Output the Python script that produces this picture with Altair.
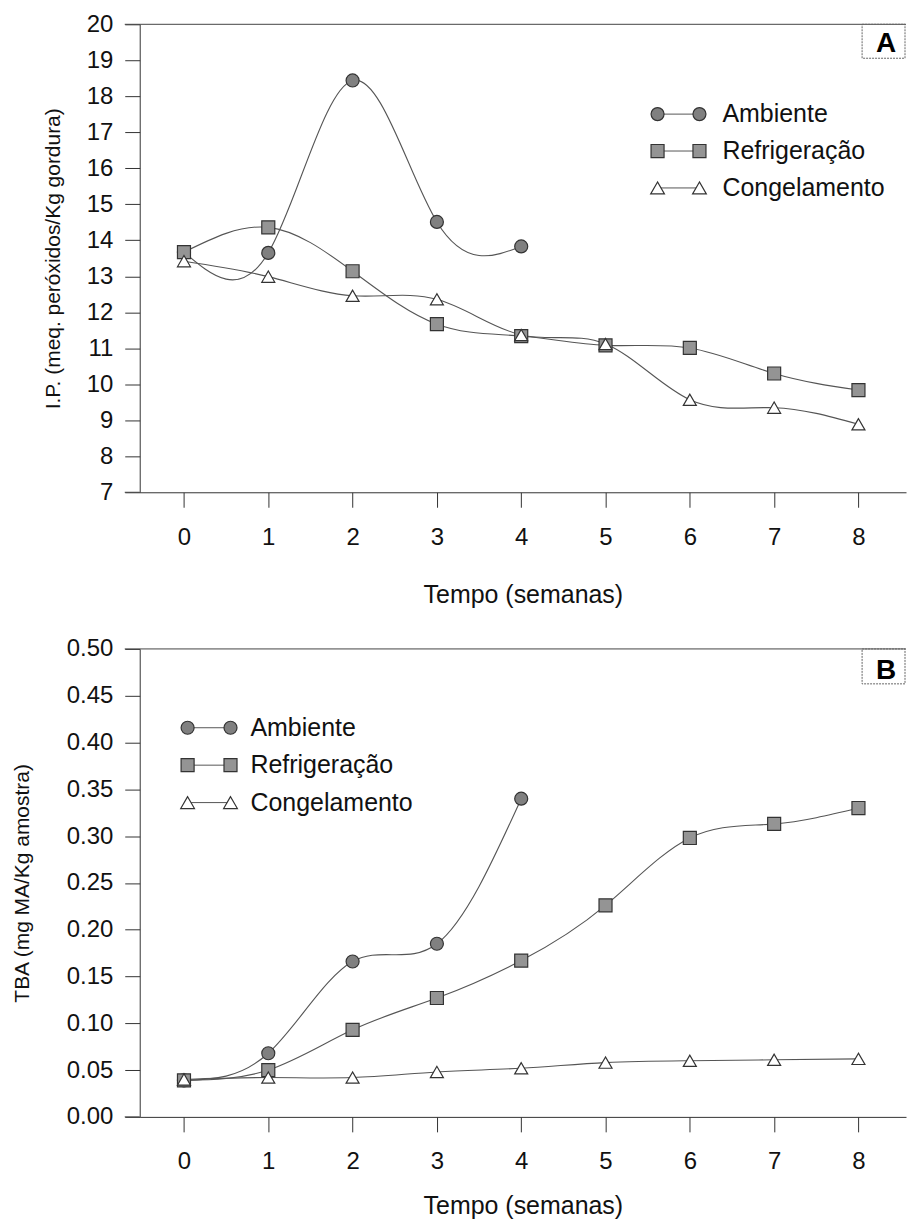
import altair as alt
import pandas as pd

FONT = "Liberation Sans"

series_names = ["Ambiente", "Refrigeração", "Congelamento"]
weeks_amb = [0, 1, 2, 3, 4]
weeks_all = [0, 1, 2, 3, 4, 5, 6, 7, 8]

ip_ambiente = [13.67, 13.65, 18.44, 14.51, 13.83]
ip_refrig = [13.67, 14.36, 13.14, 11.67, 11.34, 11.08, 11.01, 10.30, 9.84]
ip_congel = [13.42, 12.99, 12.46, 12.36, 11.37, 11.12, 9.57, 9.35, 8.89]

tba_ambiente = [0.039, 0.068, 0.166, 0.185, 0.340]
tba_refrig = [0.039, 0.050, 0.093, 0.127, 0.167, 0.226, 0.298, 0.313, 0.330]
tba_congel = [0.040, 0.042, 0.042, 0.048, 0.052, 0.058, 0.060, 0.061, 0.062]

ip_ticks = list(range(7, 21))
tba_ticks = [0.0, 0.05, 0.10, 0.15, 0.20, 0.25, 0.30, 0.35, 0.40, 0.45, 0.50]

W = 768
H = 469
X_DOMAIN = [-0.525, 8.564]

shape_scale = alt.Scale(domain=series_names, range=["circle", "square", "triangle-up"])
fill_scale = alt.Scale(domain=series_names, range=["#808080", "#949494", "#ffffff"])
SHAPES = {"Ambiente": "circle", "Refrigeração": "square", "Congelamento": "triangle-up"}
FILLS = {"Ambiente": "#808080", "Refrigeração": "#949494", "Congelamento": "#ffffff"}
SIZES = {"Ambiente": 170, "Refrigeração": 170, "Congelamento": 190}


def long_df(amb, ref, con):
    rows = []
    for w, v in zip(weeks_amb, amb):
        rows.append({"semana": w, "valor": v, "serie": "Ambiente"})
    for w, v in zip(weeks_all, ref):
        rows.append({"semana": w, "valor": v, "serie": "Refrigeração"})
    for w, v in zip(weeks_all, con):
        rows.append({"semana": w, "valor": v, "serie": "Congelamento"})
    return pd.DataFrame(rows)


def panel(df, y_domain, y_ticks, y_title, y_fmt, title_x, x_title_y, letter, leg):
    one = pd.DataFrame({"k": [0]})
    x_enc = alt.X(
        "semana:Q",
        scale=alt.Scale(domain=X_DOMAIN, nice=False, zero=False),
        axis=alt.Axis(
            values=weeks_all, title="Tempo (semanas)", format="d",
            tickSize=15, labelPadding=30, labelBaseline="middle", labelOverlap=False,
            labelFontSize=24, titleFontSize=25, titleFontWeight="normal",
            titleY=x_title_y, titleBaseline="middle", grid=False,
        ),
    )
    y_enc = alt.Y(
        "valor:Q",
        scale=alt.Scale(domain=y_domain, nice=False, zero=False),
        axis=alt.Axis(
            values=y_ticks, title=y_title, format=y_fmt,
            tickSize=15, labelPadding=12, labelFontSize=24, labelOverlap=False,
            titleFontSize=21, titleFontWeight="normal",
            titleX=title_x, titleY=H / 2, titleBaseline="middle", grid=False,
        ),
    )
    lines = alt.Chart(df).mark_line(
        interpolate="natural", color="#555555", strokeWidth=1.1
    ).encode(x=x_enc, y=y_enc, detail="serie:N")
    pts = alt.Chart(df).mark_point(
        filled=True, stroke="#333333", strokeWidth=1.2, opacity=1, size=170
    ).encode(
        x=x_enc, y=y_enc,
        shape=alt.Shape("serie:N", scale=shape_scale, legend=None),
        fill=alt.Fill("serie:N", scale=fill_scale, legend=None),
    )
    top_rule = alt.Chart(one).mark_rule(color="#444444", strokeWidth=1).encode(
        x=alt.value(-15), x2=alt.value(W), y=alt.value(0))
    bot_rule = alt.Chart(one).mark_rule(color="#444444", strokeWidth=1).encode(
        x=alt.value(-15), x2=alt.value(0), y=alt.value(H))
    box = alt.Chart(one).mark_rect(
        fillOpacity=0, stroke="#666666", strokeWidth=1, strokeDash=[2, 1]
    ).encode(x=alt.value(724), x2=alt.value(W - 1), y=alt.value(0), y2=alt.value(leg["box_h"]))
    lab = alt.Chart(one).mark_text(
        text=letter, fontSize=28, fontWeight="bold", font=FONT, align="center", baseline="middle"
    ).encode(x=alt.value(748), y=alt.value(leg["let_y"]))

    layers = [top_rule, bot_rule, lines, pts, box, lab]
    for i, name in enumerate(series_names):
        yy = leg["y0"] + i * leg["dy"]
        layers.append(alt.Chart(one).mark_rule(color="#555555", strokeWidth=1).encode(
            x=alt.value(leg["x1"]), x2=alt.value(leg["x2"]), y=alt.value(yy)))
        for xx in (leg["x1"], leg["x2"]):
            layers.append(alt.Chart(one).mark_point(
                shape=SHAPES[name], filled=True, fill=FILLS[name], stroke="#333333",
                strokeWidth=1.2, opacity=1, size=SIZES[name]
            ).encode(x=alt.value(xx), y=alt.value(yy)))
        layers.append(alt.Chart(one).mark_text(
            text=name, fontSize=25, font=FONT, align="left", baseline="middle", color="#111111"
        ).encode(x=alt.value(leg["xt"]), y=alt.value(yy)))
    return alt.layer(*layers).properties(width=W, height=H)


top = panel(
    long_df(ip_ambiente, ip_refrig, ip_congel), [7, 20], ip_ticks,
    "I.P. (meq. peróxidos/Kg gordura)", "d", -86, 102, "A",
    {"x1": 519, "x2": 561, "xt": 584, "y0": 90, "dy": 37, "box_h": 34, "let_y": 20},
)
bottom = panel(
    long_df(tba_ambiente, tba_refrig, tba_congel), [0, 0.5], tba_ticks,
    "TBA (mg MA/Kg amostra)", ".2f", -117, 89, "B",
    {"x1": 48, "x2": 91, "xt": 111, "y0": 79, "dy": 37.5, "box_h": 35, "let_y": 22},
)

chart = alt.vconcat(top, bottom, spacing=30).properties(
    padding={"left": 3, "top": 3, "right": 0, "bottom": 0}
).configure(font=FONT).configure_view(stroke=None).configure_axis(
    domainColor="#333333", tickColor="#333333", labelColor="#111111",
    titleColor="#111111", labelFont=FONT, titleFont=FONT, domainWidth=1, tickWidth=1,
)

chart.save("out.html", embed_options={"renderer": "svg", "actions": False})
